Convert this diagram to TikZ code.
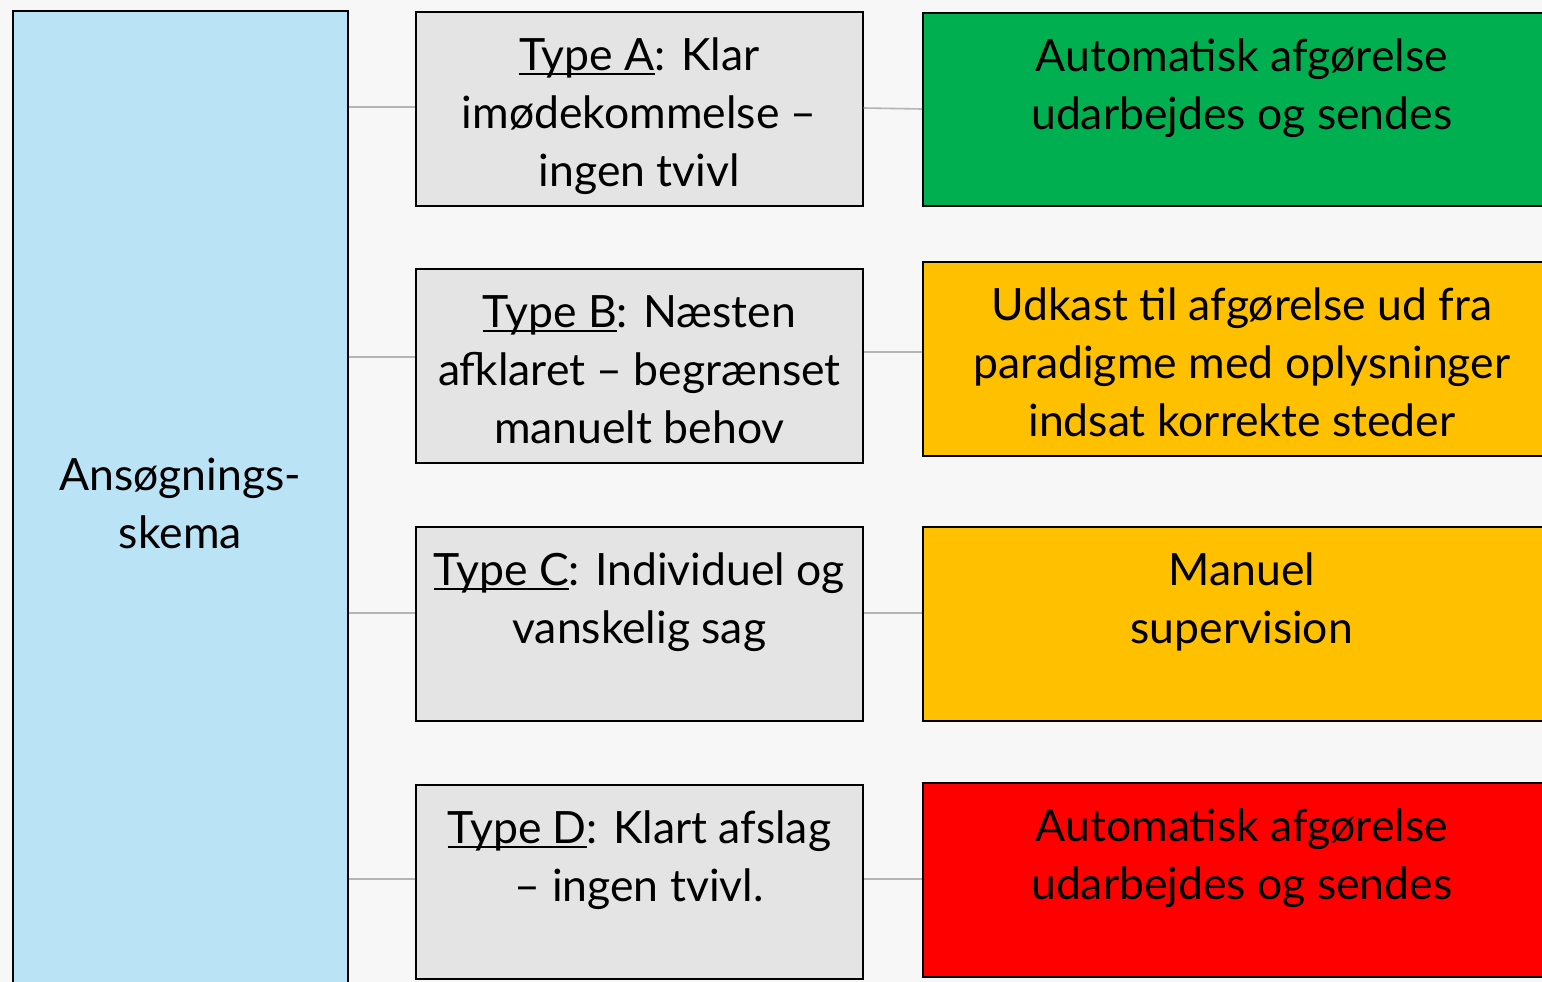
\documentclass[tikz,border=0pt]{standalone}
\usepackage{fontspec}
\setmainfont{Lato}
\definecolor{pagebg}{HTML}{F7F7F7}
\definecolor{formblue}{HTML}{BAE3F6}
\definecolor{typegray}{HTML}{E4E4E4}
\definecolor{okgreen}{HTML}{00B050}
\definecolor{midamber}{HTML}{FFC000}
\definecolor{nored}{HTML}{FF0000}
\definecolor{linkgray}{HTML}{B4B4B4}
% box text: top-aligned lines inside a fixed-size box
\newcommand\toptext[3]{\parbox[c][#1][t]{#2}{\centering\rule{0pt}{59pt}#3\par}}
% underline placed just below the baseline
\newcommand\typeline[1]{\setbox0\hbox{#1}\rlap{\rule[-4pt]{\wd0}{1.6pt}}\box0}
\begin{document}
\begin{tikzpicture}[x=1pt,y=-1pt,
  every node/.append style={font=\fontsize{44.5}{58}\selectfont},
  panel/.style={draw=black, line width=1.6pt, inner sep=0pt, anchor=north west},
  link/.style={draw=linkgray, line width=1.6pt}]
\useasboundingbox (0,0) rectangle (1542,982);
\fill[pagebg] (0,0) rectangle (1542,982);
\clip (0,0) rectangle (1542,982);

% application form
\node[panel, fill=formblue, minimum width=335pt, minimum height=985pt, align=center] (L) at (12,10)
  {Ansøgnings-\\skema};

% case types
\node[panel, fill=typegray] (mA) at (415,11)
  {\toptext{194pt}{447pt}{\typeline{Type A}: Klar\\imødekommelse –\\ingen tvivl}};
\node[panel, fill=typegray] (mB) at (415,268)
  {\toptext{194pt}{447pt}{\typeline{Type B}: Næsten\\afklaret – begrænset\\manuelt behov}};
\node[panel, fill=typegray] (mC) at (415,526)
  {\toptext{194pt}{447pt}{\typeline{Type C}: Individuel og\\vanskelig sag}};
\node[panel, fill=typegray] (mD) at (415,784)
  {\toptext{194pt}{447pt}{\typeline{Type D}: Klart afslag\\– ingen tvivl.}};

% outcomes
\node[panel, fill=okgreen] (rA) at (922,12)
  {\toptext{193pt}{638pt}{Automatisk afgørelse\\udarbejdes og sendes}};
\node[panel, fill=midamber] (rB) at (922,261)
  {\toptext{194pt}{638pt}{Udkast til afgørelse ud fra\\paradigme med oplysninger\\indsat korrekte steder}};
\node[panel, fill=midamber] (rC) at (922,526)
  {\toptext{194pt}{638pt}{Manuel\\supervision}};
\node[panel, fill=nored] (rD) at (922,782)
  {\toptext{194pt}{638pt}{Automatisk afgørelse\\udarbejdes og sendes}};

% connectors
\draw[link] (L.east |- 0,107) -- (mA.west |- 0,107);
\draw[link] (L.east |- 0,357) -- (mB.west |- 0,357);
\draw[link] (L.east |- 0,613) -- (mC.west |- 0,613);
\draw[link] (L.east |- 0,879) -- (mD.west |- 0,879);
\draw[link] (mA.east |- 0,108) -- (rA.west |- 0,109);
\draw[link] (mB.east |- 0,352) -- (rB.west |- 0,352);
\draw[link] (mC.east |- 0,613) -- (rC.west |- 0,613);
\draw[link] (mD.east |- 0,879) -- (rD.west |- 0,879);
\end{tikzpicture}
\end{document}
